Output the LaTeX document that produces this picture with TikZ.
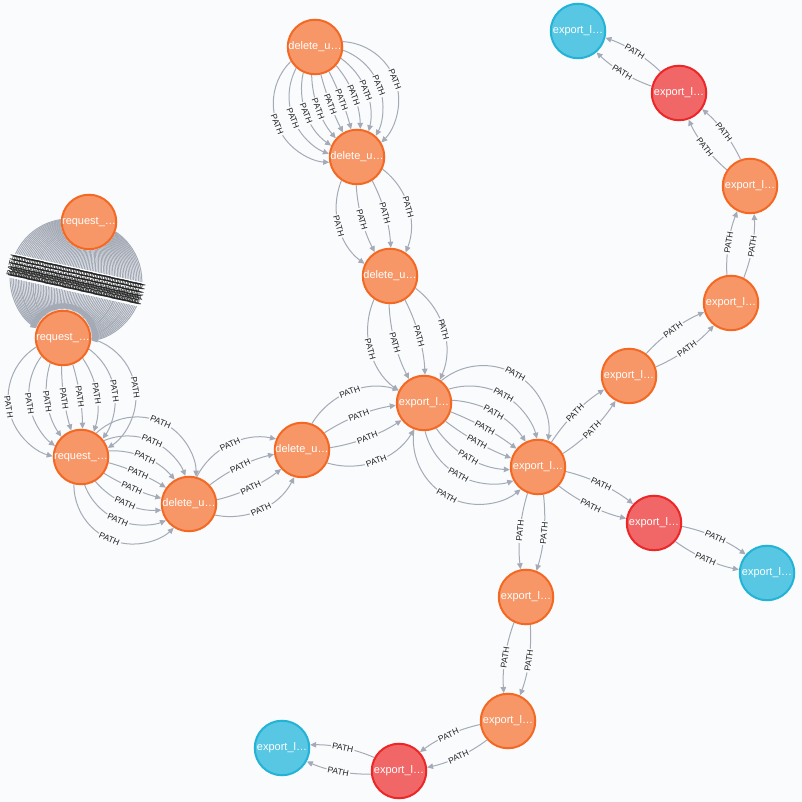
\documentclass[tikz,border=0pt]{standalone}
\usepackage{fontspec}
\setmainfont{Liberation Sans}
\usetikzlibrary{arrows.meta,calc}
\definecolor{bgc}{HTML}{F9FBFD}
\definecolor{edgec}{HTML}{A5ABB6}
\definecolor{ofill}{HTML}{F79767}
\definecolor{odraw}{HTML}{F36924}
\definecolor{rfill}{HTML}{F16667}
\definecolor{rdraw}{HTML}{EB2728}
\definecolor{bfill}{HTML}{57C7E3}
\definecolor{bdraw}{HTML}{23B3D7}
\definecolor{lblc}{HTML}{222222}
\pgfdeclarelayer{bg}
\pgfdeclarelayer{edges}
\pgfdeclarelayer{lblbg}
\pgfdeclarelayer{lbltext}
\pgfsetlayers{bg,edges,lblbg,lbltext,main}
\newcommand\ntext[1]{\raisebox{-2pt}{#1}}
\tikzset{
  gnode/.style={circle, minimum size=54.5pt, inner sep=0pt, line width=2pt, text=white, font=\fontsize{11}{13}\selectfont},
  onode/.style={gnode, fill=ofill, draw=odraw},
  rnode/.style={gnode, fill=rfill, draw=rdraw},
  bnode/.style={gnode, fill=bfill, draw=bdraw},
  relline/.style={draw=edgec, line width=1pt, -{Triangle[length=6pt,width=5.5pt]}},
  lblbox/.style={fill=bgc, inner sep=1.2pt, font=\fontsize{8.5}{10}\selectfont},
  lbltxt/.style={inner sep=1.2pt, text=lblc, font=\fontsize{8.5}{10}\selectfont},
}
\makeatletter
\def\noderad{28.3}
\newcommand\relarc[3]{%
  \pgfpointanchor{#1}{center}%
  \edef\zax{\strip@pt\pgf@x}\edef\zay{\strip@pt\pgf@y}%
  \pgfpointanchor{#2}{center}%
  \edef\zbx{\strip@pt\pgf@x}\edef\zby{\strip@pt\pgf@y}%
  \pgfmathsetmacro\zs{#3}%
  \pgfmathsetmacro\zsg{(\zs>0)?1:-1}%
  \pgfmathsetmacro\zas{abs(\zs)}%
  \pgfmathsetmacro\zh{0.5*veclen(\zbx-\zax,\zby-\zay)}%
  \pgfmathsetmacro\zph{atan2(\zby-\zay,\zbx-\zax)}%
  \pgfmathsetmacro\zr{(\zh*\zh+\zas*\zas)/(2*\zas)}%
  \pgfmathsetmacro\zbe{2*atan(\zas/\zh)}%
  \pgfmathsetmacro\zde{2*asin(\noderad/(2*\zr))}%
  \pgfmathsetmacro\zga{\zph+90*\zsg}%
  \pgfmathsetmacro\zcx{(\zax+\zbx)/2+\zsg*(\zas-\zr)*cos(\zph+90)}%
  \pgfmathsetmacro\zcy{(\zay+\zby)/2+\zsg*(\zas-\zr)*sin(\zph+90)}%
  \pgfmathsetmacro\zst{\zga+\zsg*(\zbe-\zde)}%
  \pgfmathsetmacro\zen{\zga-\zsg*(\zbe-\zde)}%
  \pgfmathsetmacro\zpx{\zcx+\zr*cos(\zga)}%
  \pgfmathsetmacro\zpy{\zcy+\zr*sin(\zga)}%
  \pgfmathsetmacro\zrot{(\zph>90)?(\zph-180):(\zph)}%
  \pgfmathsetmacro\zrot{(\zrot<-90)?(\zrot+180):(\zrot)}%
  \begin{pgfonlayer}{edges}
    \draw[relline] ({\zcx+\zr*cos(\zst)},{\zcy+\zr*sin(\zst)}) arc[start angle=\zst, end angle=\zen, radius=\zr];
  \end{pgfonlayer}
  \begin{pgfonlayer}{lblbg}
    \node[lblbox, rotate=\zrot] at (\zpx,\zpy) {\phantom{PATH}};
  \end{pgfonlayer}
  \begin{pgfonlayer}{lbltext}
    \node[lbltxt, rotate=\zrot] at (\zpx,\zpy) {PATH};
  \end{pgfonlayer}
}
\newcommand\relarcs[3]{\foreach \zzv in {#3}{\relarc{#1}{#2}{\zzv}}}
\makeatother
\begin{document}
\begin{tikzpicture}[x=1pt,y=1pt]
\useasboundingbox (0,0) rectangle (802,802);
\begin{pgfonlayer}{bg}
\fill[bgc] (0,0) rectangle (802,802);
\end{pgfonlayer}
% nodes
\node[onode] (R1) at (89,580) {\ntext{request\_…}};
\node[onode] (R2) at (63,464) {\ntext{request\_…}};
\node[onode] (R3) at (81,345) {\ntext{request\_…}};
\node[onode] (D1) at (189,298) {\ntext{delete\_u…}};
\node[onode] (D2) at (302,352) {\ntext{delete\_u…}};
\node[onode] (D3) at (315,755) {\ntext{delete\_u…}};
\node[onode] (D4) at (357,645) {\ntext{delete\_u…}};
\node[onode] (D5) at (390,526) {\ntext{delete\_u…}};
\node[onode] (E1) at (424,399) {\ntext{export\_l…}};
\node[onode] (E2) at (538,335) {\ntext{export\_l…}};
\node[onode] (E3) at (629,426) {\ntext{export\_l…}};
\node[onode] (E4) at (731,499) {\ntext{export\_l…}};
\node[onode] (E5) at (750,616) {\ntext{export\_l…}};
\node[rnode] (E6) at (679,709) {\ntext{export\_l…}};
\node[bnode] (E7) at (578,771) {\ntext{export\_l…}};
\node[rnode] (E8) at (654,279) {\ntext{export\_l…}};
\node[bnode] (E9) at (767,229) {\ntext{export\_l…}};
\node[onode] (E10) at (526,205) {\ntext{export\_l…}};
\node[onode] (E11) at (508,81) {\ntext{export\_l…}};
\node[rnode] (E12) at (399,31) {\ntext{export\_l…}};
\node[bnode] (E13) at (282,54) {\ntext{export\_l…}};
% relationships
\foreach \i in {0,...,79}{\pgfmathsetmacro\zzs{-66+132*\i/79}\relarc{R1}{R2}{\zzs}}
\relarcs{R2}{R3}{-64,-43,-25,-8,8,25,43,64}
\relarcs{R3}{D1}{-64,-43,-25,-8,8,25,43,64}
\relarcs{D1}{D2}{-36,-12,12,36}
\relarcs{D2}{E1}{-37,-12,12,37}
\relarcs{D3}{D4}{-63,-46,-32,-19,-6,6,19,32,46,63}
\relarcs{D4}{D5}{-36,-12,12,36}
\relarcs{D5}{E1}{-38,-12.5,12.5,38}
\relarcs{E1}{E2}{-70,-46,-26,-8,8,26,46,70}
\relarcs{E2}{E3}{-12,12}
\relarcs{E3}{E4}{-12,12}
\relarcs{E4}{E5}{-12,12}
\relarcs{E5}{E6}{-12,12}
\relarcs{E6}{E7}{-12,12}
\relarcs{E2}{E8}{-12,12}
\relarcs{E8}{E9}{-12,12}
\relarcs{E2}{E10}{-12,12}
\relarcs{E10}{E11}{-12,12}
\relarcs{E11}{E12}{-12,12}
\relarcs{E12}{E13}{-12,12}
\end{tikzpicture}
\end{document}
